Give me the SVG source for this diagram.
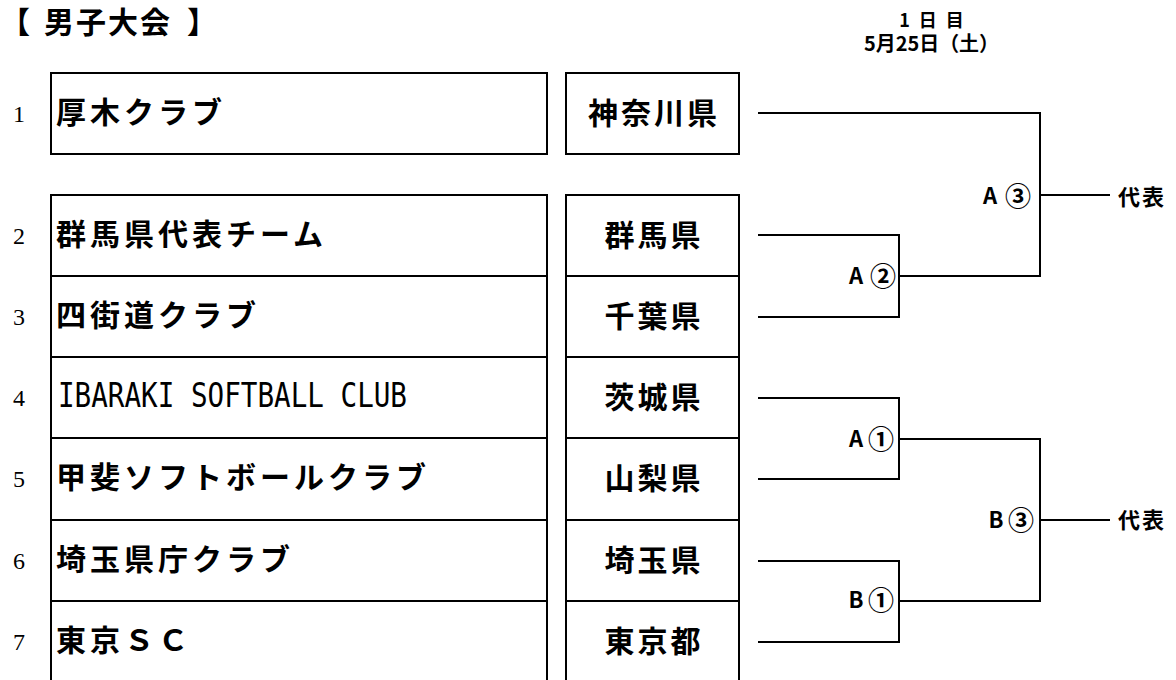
<svg xmlns="http://www.w3.org/2000/svg" width="1176" height="680" viewBox="0 0 1176 680">
<style>
.cell{fill:#fff;stroke:#000;stroke-width:2}
.ln{fill:none;stroke:#000;stroke-width:2}
.num{font-family:"Liberation Serif",serif;font-size:24px;fill:#000}
.nm{font-family:"Noto Sans CJK JP","Noto Sans",sans-serif;font-size:30px;font-weight:bold;letter-spacing:4px;fill:#000}
.en{font-family:"DejaVu Sans Mono","Liberation Mono",monospace;font-size:33px;fill:#000}
.pf{font-family:"Noto Sans CJK JP","Noto Sans",sans-serif;font-size:30px;font-weight:bold;letter-spacing:3px;fill:#000;text-anchor:middle}
.lb{font-family:"Noto Sans CJK JP","Liberation Sans",sans-serif;font-size:22px;font-weight:bold;fill:#000;text-anchor:middle}
.cd{font-size:26px}
.hd{font-family:"Noto Sans CJK JP",sans-serif;font-weight:bold;fill:#000}
</style>
<rect width="1176" height="680" fill="#fff"/>
<g id="title">
<text class="hd" font-size="30" y="33"><tspan x="0">【</tspan><tspan x="44" letter-spacing="2">男子大会</tspan><tspan x="187">】</tspan></text>
</g>
<g id="header">
<text class="hd" font-size="18" y="27" x="936" text-anchor="middle" letter-spacing="9">1日目</text>
<text class="hd" font-size="20" x="864" y="51" textLength="135" lengthAdjust="spacingAndGlyphs">5月25日（土）</text>
</g>
<g id="team1">
<rect class="cell" x="51" y="73" width="496" height="81"/>
<text class="num" x="13" y="122">1</text>
<text class="nm" x="56" y="123">厚木クラブ</text>
<rect class="cell" x="566" y="73" width="173" height="81"/>
<text class="pf" x="654" y="123.5">神奈川県</text>
</g>
<g id="team2">
<rect class="cell" x="51" y="195" width="496" height="81"/>
<text class="num" x="13" y="244">2</text>
<text class="nm" x="56" y="245">群馬県代表チーム</text>
<rect class="cell" x="566" y="195" width="173" height="81"/>
<text class="pf" x="654" y="245.5">群馬県</text>
</g>
<g id="team3">
<rect class="cell" x="51" y="276" width="496" height="81"/>
<text class="num" x="13" y="325">3</text>
<text class="nm" x="56" y="326">四街道クラブ</text>
<rect class="cell" x="566" y="276" width="173" height="81"/>
<text class="pf" x="654" y="326.5">千葉県</text>
</g>
<g id="team4">
<rect class="cell" x="51" y="357" width="496" height="81"/>
<text class="num" x="13" y="406">4</text>
<text class="en" x="58" y="407" textLength="349" lengthAdjust="spacingAndGlyphs">IBARAKI SOFTBALL CLUB</text>
<rect class="cell" x="566" y="357" width="173" height="81"/>
<text class="pf" x="654" y="407.5">茨城県</text>
</g>
<g id="team5">
<rect class="cell" x="51" y="438" width="496" height="82"/>
<text class="num" x="13" y="487">5</text>
<text class="nm" x="56" y="488">甲斐ソフトボールクラブ</text>
<rect class="cell" x="566" y="438" width="173" height="82"/>
<text class="pf" x="654" y="488.5">山梨県</text>
</g>
<g id="team6">
<rect class="cell" x="51" y="520" width="496" height="81"/>
<text class="num" x="13" y="569">6</text>
<text class="nm" x="56" y="570">埼玉県庁クラブ</text>
<rect class="cell" x="566" y="520" width="173" height="81"/>
<text class="pf" x="654" y="570.5">埼玉県</text>
</g>
<g id="team7">
<rect class="cell" x="51" y="601" width="496" height="82"/>
<text class="num" x="13" y="650">7</text>
<text class="nm" x="56" y="651">東京ＳＣ</text>
<rect class="cell" x="566" y="601" width="173" height="82"/>
<text class="pf" x="654" y="651.5">東京都</text>
</g>
<g id="connectors">
<path class="ln" d="M758 113 H1040 V276 H899"/>
<path class="ln" d="M1040 195 H1110"/>
<path class="ln" d="M758 235 H899 V317 H758"/>
<path class="ln" d="M758 398 H899 V479 H758"/>
<path class="ln" d="M899 439 H1040 V601 H899"/>
<path class="ln" d="M758 561 H899 V642 H758"/>
<path class="ln" d="M1040 520 H1110"/>
</g>
<g id="labels">
<text class="lb"><tspan x="990" y="204">A</tspan><tspan class="cd" x="1018" y="206">③</tspan></text>
<text class="lb"><tspan x="856" y="284">A</tspan><tspan class="cd" x="883" y="286">②</tspan></text>
<text class="lb"><tspan x="856" y="447">A</tspan><tspan class="cd" x="881" y="449">①</tspan></text>
<text class="lb"><tspan x="996" y="528">B</tspan><tspan class="cd" x="1021" y="530">③</tspan></text>
<text class="lb"><tspan x="856" y="608">B</tspan><tspan class="cd" x="881" y="610">①</tspan></text>
</g>
<g id="rep1"><text class="hd" font-size="22" letter-spacing="2" x="1118" y="205">代表</text></g>
<g id="rep2"><text class="hd" font-size="22" letter-spacing="2" x="1118" y="528">代表</text></g>
</svg>
